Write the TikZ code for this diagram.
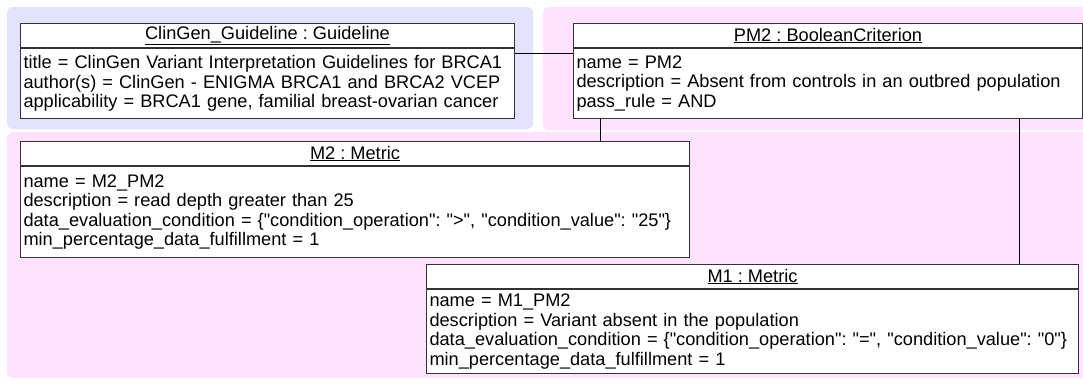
\documentclass[tikz,border=0pt]{standalone}
\usepackage{fontspec}
\newfontfamily\umlfamily{Liberation Sans}
\usepackage{tikz}
\usetikzlibrary{positioning}
\definecolor{guidebg}{RGB}{226,226,250}
\definecolor{critbg}{RGB}{255,226,254}
\newcommand{\umlfont}{\umlfamily\frenchspacing\fontsize{18.2}{19.5}\selectfont}
\tikzset{
  region/.style = {rounded corners=6pt, draw=none},
  objhead/.style = {rectangle, draw=black!80, fill=white, line width=1pt, minimum height=24pt, inner sep=0pt, font=\umlfont},
  objbody/.style = {rectangle, draw=black!80, fill=white, line width=1pt, inner xsep=3pt, inner ysep=0pt, align=left, font=\umlfont},
  link/.style = {-, draw=black, line width=1pt}
}

\begin{document}
\begin{tikzpicture}[x=1pt, y=-1pt]
\useasboundingbox (0,0) rectangle (1083,383);
% packages
\fill [region, guidebg] (7,7) rectangle (533,129);
\fill [region, critbg] (543,7) rectangle (1092,130);
\fill [region, critbg] (7,132) rectangle (1092,378);
% objects
\node [objhead, minimum width=494pt, anchor=north west] (ghead) at (20,23) {\underline{ClinGen\_Guideline : Guideline}};
\node [objbody, text width=488pt, minimum height=70pt, below=0pt of ghead] (gbody) {title = ClinGen Variant Interpretation Guidelines for BRCA1\\author(s) = ClinGen - ENIGMA BRCA1 and BRCA2 VCEP\\applicability = BRCA1 gene, familial breast-ovarian cancer};
\node [objhead, minimum width=509pt, anchor=north west] (phead) at (573,23) {\underline{PM2 : BooleanCriterion}};
\node [objbody, text width=503pt, minimum height=70pt, below=0pt of phead] (pbody) {name = PM2\\description = Absent from controls in an outbred population\\pass\_rule = AND};
\node [objhead, minimum width=669pt, anchor=north west] (m2head) at (20,141) {\underline{M2 : Metric}};
\node [objbody, text width=663pt, minimum height=91pt, below=0pt of m2head] (m2body) {name = M2\_PM2\\description = read depth greater than 25\\\mbox{data\_evaluation\_condition = \{"condition\_operation": ">", "condition\_value": "25"\}}\\min\_percentage\_data\_fulfillment = 1};
\node [objhead, minimum width=652pt, anchor=north west] (m1head) at (426,264) {\underline{M1 : Metric}};
\node [objbody, text width=646pt, minimum height=84pt, below=0pt of m1head] (m1body) {name = M1\_PM2\\description = Variant absent in the population\\\mbox{data\_evaluation\_condition = \{"condition\_operation": "=", "condition\_value": "0"\}}\\min\_percentage\_data\_fulfillment = 1};
% links
\draw [link] ([yshift=-5pt]ghead.south east) -- ([yshift=-5pt]phead.south west);
\coordinate (pm2a) at ([xshift=27pt]pbody.south west);
\coordinate (pm2b) at ([xshift=446pt]pbody.south west);
\draw [link] (pm2a) -- (pm2a |- m2head.north);
\draw [link] (pm2b) -- (pm2b |- m1head.north);
\end{tikzpicture}
\end{document}
